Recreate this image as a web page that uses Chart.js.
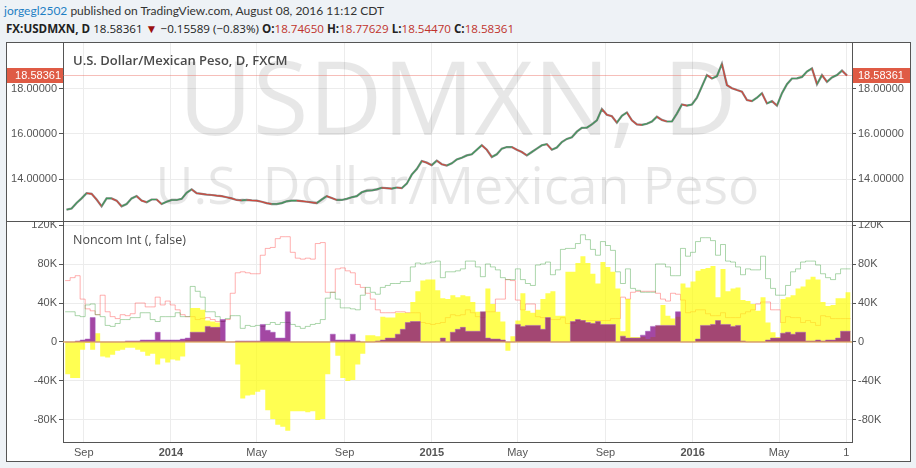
<!DOCTYPE html>
<html lang="en">
<head>
<meta charset="UTF-8">
<title>USDMXN - Noncom Int</title>
<script src="https://cdn.jsdelivr.net/npm/chart.js@4.4.0/dist/chart.umd.min.js"></script>
<style>
    body {
        margin: 0;
        width: 916px;
        height: 468px;
        background: #eef2f6;
        position: relative;
        overflow: hidden;
        font-family: "Open Sans", sans-serif;
    }
    #line1 {
        position: absolute; left: 4px; top: 3px;
        font-family: Lato, sans-serif;
        font-size: 12px; color: #333; white-space: nowrap;
    }
    #line1 .user { color: #1f7fc4; }
    #line2 {
        position: absolute; left: 6px; top: 20px;
        font-size: 11.6px; color: #222; white-space: nowrap;
    }
    #line2 b { font-weight: 700; }
    #line2 .r { color: #c0322c; }
    #line2 .tri { color: #9b1010; font-size: 12px; }
    #frame {
        position: absolute; left: 6px; top: 42px;
        width: 903px; height: 418px;
        border: 1px solid #555; background: #fff;
    }
    #frame canvas { position: absolute; left: 0; }
    #pricePane { top: 0; }
    #sep { position: absolute; left: 0; top: 178px; width: 903px; height: 1px; background: #555; }
    #cotPane { top: 179px; }
    .title {
        position: absolute; left: 66px; color: #4a4a4a; white-space: nowrap;
    }
    #t1 { top: 8px; font-size: 13px; font-weight: 600; }
    #t2 { top: 188px; font-size: 12.5px; }
</style>
</head>
<body>
<div id="line1"><span class="user">jorgegl2502</span> published on TradingView.com, August 08, 2016 11:12 CDT</div>
<div id="line2"><b>FX:USDMXN, D</b> 18.58361 <span class="tri">&#9660;</span> &minus;0.15589 (&minus;0.83%) <b>O:</b><span class="r">18.74650</span> <b>H:</b><span class="r">18.77629</span> <b>L:</b><span class="r">18.54470</span> <b>C:</b><span class="r">18.58361</span></div>

<div id="frame">
    <canvas id="pricePane" width="903" height="178"></canvas>
    <div id="sep"></div>
    <canvas id="cotPane" width="903" height="239"></canvas>
    <div class="title" id="t1">U.S. Dollar/Mexican Peso, D, FXCM</div>
    <div class="title" id="t2">Noncom Int (, false)</div>
</div>

<script>
// x axis = days counted from 1 Jan 2014, one point per weekly report
const X_MIN = -151, X_MAX = 953;
const FIRST_WEEK = -148;
const xTicks = [-122, 0, 120, 243, 365, 485, 608, 730, 851, 945];
const xTickLabels = ['Sep', '2014', 'May', 'Sep', '2015', 'May', 'Sep', '2016', 'May', '1'];

const priceTicks = [14, 16, 18];
const cotTicks = [-80, -40, 0, 40, 80, 120];

// weekly USD/MXN close
const closes = [
    12.65, 12.7, 12.95, 13.15, 13.38, 13.35, 13.1, 12.8, 13.15, 13.15,
    13.05, 12.8, 12.9, 13.15, 13.25, 13.05, 12.98, 13.1, 13.1, 12.9,
    13.0, 13.08, 13.08, 13.13, 13.4, 13.55, 13.38, 13.35, 13.32, 13.3,
    13.27, 13.25, 13.2, 13.15, 13.08, 13.06, 13.08, 13.06, 13.05, 13.0,
    12.94, 12.9, 12.9, 12.94, 13.02, 13.05, 13.05, 13.03, 13.0, 12.97,
    12.94, 13.1, 13.25, 13.17, 13.08, 13.08, 13.13, 13.2, 13.25, 13.42,
    13.49, 13.5, 13.55, 13.62, 13.6, 13.58, 13.63, 13.6, 13.8, 14.2,
    14.45, 14.8, 14.73, 14.62, 14.82, 14.66, 14.6, 14.7, 14.87, 14.95,
    15.05, 15.1, 15.3, 15.5, 15.3, 14.98, 15.1, 15.35, 15.42, 15.42,
    15.3, 15.2, 15.05, 15.2, 15.35, 15.5, 15.55, 15.3, 15.4, 15.64,
    15.78, 15.85, 16.1, 16.27, 16.28, 16.42, 16.6, 17.1, 16.85, 16.78,
    16.5, 16.8, 16.95, 16.6, 16.42, 16.4, 16.45, 16.55, 16.76, 16.62,
    16.55, 16.55, 16.9, 17.3, 17.25, 17.3, 17.6, 18.1, 18.6, 18.45,
    18.55, 19.1, 18.16, 18.02, 17.94, 17.87, 17.5, 17.45, 17.6, 17.8,
    17.35, 17.45, 17.25, 17.8, 18.2, 18.45, 18.46, 18.52, 18.76, 18.9,
    18.2, 18.6, 18.3, 18.5, 18.6, 18.8, 18.58361
];

// noncommercial net position (K contracts)
const netPos = [
    -33, -37, -37, -8, -1, -8, 9, -15, -16, -13,
    -9, -8, -6, -6, -8, -10, -14, -12, -23, -17,
    -21, -18, -19, -15, 2, 35, 35, 33, 22, 21,
    20, 2, 0, 0, -23, -58, -55, -54, -51, -49,
    -70, -79, -85, -87, -91, -71, -71, -71, -72, -71,
    -80, -79, -33, 0, -14, -37, -40, -39, -23, -12,
    7, 7, 6, 26, 25, 25, 30, 30, 30, 41,
    52, 63, 64, 64, 53, 45, 44, 48, 46, 48,
    47, 41, 31, 31, 55, 39, 31, 21, -9, 6,
    22, 50, 32, 30, 33, 44, 50, 52, 27, 27,
    72, 72, 81, 88, 81, 70, 60, 82, 77, 72,
    55, 11, 44, 5, 5, 5, 3, 5, 17, 38,
    27, 24, 26, 60, 56, 62, 73, 75, 76, 78,
    46, 75, 52, 55, 56, 43, 42, 39, 32, 46,
    20, 10, 5, 44, 46, 48, 55, 57, 64, 67,
    64, 41, 37, 38, 45, 45, 51
];

// spread / other component (K)
const spreadPos = [
    0, 0, 1, 2, 3, 25, 0, 0, 0, 0,
    0, 0, 1, 1, 1, 2, 2, 2, 10, 2,
    2, 2, 2, 3, 4, 10, 10, 10, 16, 15,
    15, 23, 0, 0, 1, 1, 1, 1, 1, 18,
    12, 10, 4, 4, 31, 0, 0, 0, 0, 0,
    0, 0, 0, 8, 2, 2, 2, 8, 1, 0,
    0, 0, 1, 2, 4, 4, 8, 13, 20, 21,
    21, 0, 0, 0, 0, 4, 0, 10, 13, 15,
    11, 11, 11, 31, 4, 3, 3, 2, 0, 0,
    18, 16, 17, 17, 17, 13, 25, 0, 0, 0,
    0, 21, 23, 22, 20, 19, 21, 18, 18, 18,
    0, 6, 4, 4, 4, 7, 11, 16, 17, 17,
    17, 17, 31, 0, 0, 0, 3, 17, 17, 18,
    22, 18, 18, 16, 17, 1, 0, 0, 0, 0,
    2, 4, 4, 9, 10, 8, 10, 10, 1, 1,
    2, 1, 2, 2, 4, 11, 11
];

// noncommercial longs (K)
const longPos = [
    31, 31, 27, 26, 38, 39, 28, 26, 17, 16,
    19, 23, 23, 25, 25, 30, 30, 23, 21, 26,
    26, 26, 30, 26, 26, 57, 52, 46, 31, 31,
    26, 21, 24, 27, 27, 14, 17, 16, 17, 16,
    18, 20, 18, 20, 20, 18, 16, 14, 16, 18,
    19, 23, 45, 51, 44, 35, 35, 34, 33, 48,
    56, 51, 49, 56, 58, 60, 60, 62, 62, 77,
    81, 80, 81, 82, 83, 66, 72, 72, 73, 75,
    83, 83, 77, 67, 80, 77, 74, 66, 64, 64,
    75, 64, 60, 58, 79, 80, 82, 69, 74, 95,
    96, 96, 101, 110, 105, 95, 89, 103, 99, 94,
    72, 60, 75, 55, 53, 51, 51, 51, 80, 80,
    77, 68, 68, 96, 88, 92, 103, 107, 107, 104,
    89, 100, 83, 82, 77, 69, 75, 74, 74, 88,
    65, 55, 48, 48, 58, 72, 75, 82, 83, 83,
    79, 70, 66, 64, 70, 75, 75
];

// noncommercial shorts (K)
const shortPos = [
    63, 66, 68, 44, 34, 32, 28, 48, 31, 26,
    24, 28, 27, 29, 40, 40, 36, 36, 46, 38,
    42, 38, 33, 28, 26, 26, 23, 24, 25, 23,
    21, 21, 23, 50, 71, 72, 71, 70, 70, 89,
    96, 97, 106, 108, 108, 92, 86, 85, 86, 85,
    101, 102, 51, 51, 75, 76, 73, 71, 59, 56,
    50, 44, 33, 30, 30, 30, 31, 31, 30, 30,
    30, 20, 19, 18, 19, 20, 25, 28, 27, 28,
    33, 30, 26, 25, 31, 31, 44, 44, 64, 63,
    43, 33, 39, 39, 26, 25, 24, 23, 23, 25,
    19, 19, 22, 22, 22, 22, 22, 22, 22, 24,
    24, 46, 44, 51, 52, 52, 52, 52, 50, 44,
    42, 50, 49, 43, 30, 31, 33, 33, 29, 27,
    27, 30, 25, 25, 25, 29, 31, 33, 39, 41,
    41, 33, 33, 20, 26, 25, 25, 20, 22, 20,
    17, 27, 26, 24, 24, 24, 24
];

const weekDay = i => FIRST_WEEK + 7 * i;

function linePoints(vals, shift) {
    return vals.map((v, i) => ({ x: weekDay(i) + shift, y: v }));
}
// step series hold each weekly value until the next report
function stepPoints(vals) {
    const pts = linePoints(vals, 0);
    pts.push({ x: weekDay(vals.length), y: vals[vals.length - 1] });
    return pts;
}

Chart.defaults.font.family = '"Liberation Sans", Arial, sans-serif';
Chart.defaults.font.size = 11;
Chart.defaults.color = '#555';

const GRID = '#ececec';

function xAxis(showLabels) {
    return {
        type: 'linear', min: X_MIN, max: X_MAX,
        afterBuildTicks: s => { s.ticks = xTicks.map(v => ({ value: v })); },
        afterFit: s => {
            s.height = showLabels ? 19 : 0;
            s.paddingLeft = 0; s.paddingRight = 0;
        },
        grid: { color: GRID, drawTicks: false },
        border: { display: showLabels, color: '#555' },
        ticks: {
            display: showLabels, padding: 4, autoSkip: false, maxRotation: 0,
            callback: (v, i) => xTickLabels[i],
            font: c => ({ size: 11, weight: /^\d{4}$/.test(xTickLabels[c.index]) ? 'bold' : 'normal' })
        }
    };
}

function yAxis(side, min, max, tickVals, fmt) {
    return {
        position: side, min: min, max: max,
        afterBuildTicks: s => { s.ticks = tickVals.map(v => ({ value: v })); },
        afterFit: s => {
            s.width = side === 'left' ? 56 : 58;
            s.paddingTop = 0; s.paddingBottom = 0;
        },
        grid: { color: GRID, drawOnChartArea: side === 'left', tickLength: 4, tickColor: '#555' },
        border: { color: '#555' },
        ticks: { padding: 2, callback: fmt }
    };
}

const priceFmt = v => v.toFixed(5);
const cotFmt = v => v === 0 ? '0' : v + 'K';

// big faint symbol text behind the price
const watermark = {
    id: 'watermark',
    beforeDatasetsDraw(chart) {
        const { ctx, chartArea } = chart;
        const cx = (chartArea.left + chartArea.right) / 2;
        ctx.save();
        ctx.fillStyle = 'rgba(0,0,0,0.095)';
        ctx.textAlign = 'center';
        ctx.textBaseline = 'alphabetic';
        ctx.font = '102px "Open Sans", sans-serif';
        ctx.fillText('USDMXN, D', cx, chartArea.top + 92);
        ctx.font = '52px "Open Sans", sans-serif';
        ctx.fillText('U.S. Dollar/Mexican Peso', cx, chartArea.top + 161);
        ctx.restore();
    }
};

// last close: thin line plus labels on both axes
const lastPrice = {
    id: 'lastPrice',
    beforeDatasetsDraw(chart) {
        const { ctx, chartArea, scales } = chart;
        const y = Math.round(scales.y.getPixelForValue(closes[closes.length - 1])) + 0.5;
        ctx.save();
        ctx.strokeStyle = 'rgba(235,110,100,0.45)';
        ctx.lineWidth = 1;
        ctx.beginPath();
        ctx.moveTo(chartArea.left, y);
        ctx.lineTo(chartArea.right, y);
        ctx.stroke();
        ctx.restore();
    },
    afterDraw(chart) {
        const { ctx, chartArea, scales, width } = chart;
        const v = closes[closes.length - 1];
        const y = Math.round(scales.y.getPixelForValue(v));
        const txt = v.toFixed(5);
        ctx.save();
        ctx.fillStyle = '#df5b45';
        ctx.fillRect(0, y - 7, chartArea.left, 15);
        ctx.fillRect(chartArea.right + 1, y - 7, width - chartArea.right - 1, 15);
        ctx.fillStyle = '#fff';
        ctx.font = '11px "Liberation Sans", Arial, sans-serif';
        ctx.textBaseline = 'middle';
        ctx.textAlign = 'right';
        ctx.fillText(txt, chartArea.left - 2, y + 1);
        ctx.textAlign = 'left';
        ctx.fillText(txt, chartArea.right + 6, y + 1);
        ctx.restore();
    }
};

const zeroLine = {
    id: 'zeroLine',
    afterDatasetsDraw(chart) {
        const { ctx, chartArea, scales } = chart;
        const y = scales.y.getPixelForValue(0);
        ctx.save();
        ctx.strokeStyle = 'rgba(222,165,95,0.85)';
        ctx.lineWidth = 1.5;
        ctx.beginPath();
        ctx.moveTo(chartArea.left, y);
        ctx.lineTo(chartArea.right, y);
        ctx.stroke();
        ctx.restore();
    }
};

new Chart(document.getElementById('pricePane'), {
    type: 'line',
    data: {
        datasets: [
            {
                // coloured bodies on top
                data: linePoints(closes, 2),
                borderColor: '#3b8a55',
                borderWidth: 1.1,
                pointRadius: 0,
                segment: {
                    borderColor: c => c.p1.parsed.y >= c.p0.parsed.y ? '#3f9a5c' : '#d2473b'
                }
            },
            {
                // dark wick underlay
                data: linePoints(closes, 2),
                borderColor: 'rgba(60,60,60,0.6)',
                borderWidth: 2.2,
                pointRadius: 0
            }
        ]
    },
    options: {
        responsive: false,
        animation: false,
        layout: { padding: 0 },
        plugins: { legend: { display: false }, tooltip: { enabled: false } },
        scales: {
            x: xAxis(false),
            y: yAxis('left', 12.15, 20.02, priceTicks, priceFmt),
            y2: yAxis('right', 12.15, 20.02, priceTicks, priceFmt)
        }
    },
    plugins: [watermark, lastPrice]
});

new Chart(document.getElementById('cotPane'), {
    type: 'line',
    data: {
        datasets: [
            {
                data: stepPoints(spreadPos), stepped: true, fill: 'origin',
                backgroundColor: 'rgba(128,0,128,0.72)',
                borderColor: 'rgba(165,90,195,0.5)', borderWidth: 1, pointRadius: 0
            },
            {
                data: stepPoints(netPos), stepped: true, fill: 'origin',
                backgroundColor: 'rgba(255,255,0,0.68)',
                borderWidth: 0, pointRadius: 0
            },
            {
                data: stepPoints(longPos), stepped: true, fill: false,
                borderColor: 'rgba(70,165,70,0.45)', borderWidth: 1, pointRadius: 0
            },
            {
                data: stepPoints(shortPos), stepped: true, fill: false,
                borderColor: 'rgba(255,80,80,0.45)', borderWidth: 1, pointRadius: 0
            }
        ]
    },
    options: {
        responsive: false,
        animation: false,
        layout: { padding: 0 },
        plugins: { legend: { display: false }, tooltip: { enabled: false } },
        scales: {
            x: xAxis(true),
            y: yAxis('left', -102.6, 123.1, cotTicks, cotFmt),
            y2: yAxis('right', -102.6, 123.1, cotTicks, cotFmt)
        }
    },
    plugins: [zeroLine]
});
</script>
</body>
</html>
